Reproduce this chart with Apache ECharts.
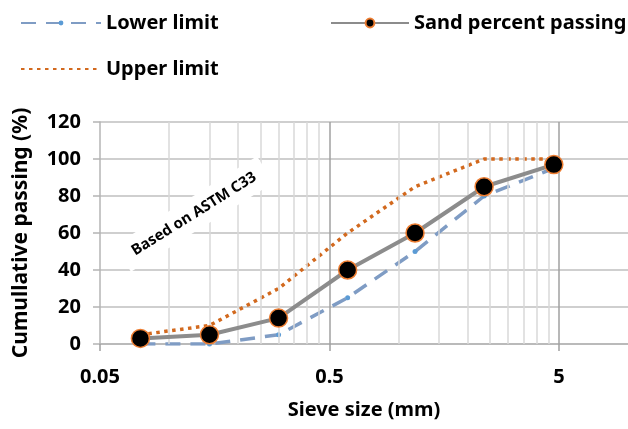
<!DOCTYPE html>
<html>
<head>
<meta charset="utf-8">
<script src="https://cdn.jsdelivr.net/npm/echarts@6/dist/echarts.min.js"></script>
<style>
	html, body { margin: 0; padding: 0; background: #fff; }
	#chart { width: 628px; height: 429px; }
</style>
</head>
<body>
<div id="chart"></div>
<script>
// sieve sizes (mm) and % passing
const sieveSizes = [0.075, 0.15, 0.3, 0.6, 1.18, 2.36, 4.75]
const sandPassing = [3, 5, 14, 40, 60, 85, 97]
const lowerLimit = [0, 0, 5, 25, 50, 80, 95]
const upperLimit = [5, 10, 30, 60, 85, 100, 100]

const xTickValues = [0.05, 0.5, 5]
const xTickLabels = ['0.05', '0.5', '5']
const xMinorGrid = [0.1, 0.15, 0.2, 0.25, 0.3, 0.35, 0.4, 0.45, 1, 1.5, 2, 2.5, 3, 3.5, 4, 4.5]
const xMajorGrid = [0.5, 5]

const FONT = '"Noto Sans", sans-serif'

const pairs = (ys) => sieveSizes.map((x, i) => [x, ys[i]])

const chart = echarts.init(document.getElementById('chart'))

const legendText = {
	fontFamily: FONT,
	fontSize: 20,
	fontWeight: 'bold',
	color: '#000'
}
const axisText = { fontFamily: FONT, fontSize: 20, fontWeight: 'bold', color: '#000' }

chart.setOption({
	animation: false,
	backgroundColor: '#fff',
	grid: {
		left: 100,
		right: 0,
		top: 122,
		bottom: 85,
		outerBoundsMode: 'none'
	},
	legend: [
		{ data: ['Lower limit'], left: 15, top: 8, itemWidth: 80, itemHeight: 6, itemGap: 0, textStyle: legendText },
		{ data: ['Sand percent passing'], left: 325, top: 8, itemWidth: 78, itemHeight: 11, textStyle: legendText },
		{
			data: [{ name: 'Upper limit', itemStyle: { color: 'transparent', borderWidth: 0 } }],
			left: 15,
			top: 54,
			itemWidth: 80,
			itemHeight: 6,
			textStyle: legendText
		}
	],
	xAxis: {
		type: 'log',
		logBase: 10,
		min: 0.05,
		max: 10,
		name: 'Sieve size (mm)',
		nameLocation: 'middle',
		nameGap: 56,
		nameTextStyle: axisText,
		axisLine: { lineStyle: { color: '#b4b4b4', width: 1.5 } },
		axisTick: { show: true, customValues: xTickValues, length: 7, lineStyle: { color: '#a0a0a0', width: 1.5 } },
		axisLabel: {
			customValues: xTickValues,
			margin: 23,
			...axisText,
			formatter: (v) => {
				const i = xTickValues.findIndex((t) => Math.abs(t - v) / t < 1e-6)
				return i >= 0 ? xTickLabels[i] : ''
			}
		},
		splitLine: { show: false }
	},
	yAxis: {
		type: 'value',
		min: 0,
		max: 120,
		interval: 20,
		name: 'Cumullative passing (%)',
		nameLocation: 'middle',
		nameGap: 68,
		nameTextStyle: { ...axisText, fontSize: 21 },
		axisLine: { show: true, lineStyle: { color: '#b4b4b4', width: 1.5 } },
		axisTick: { show: true, length: 7, lineStyle: { color: '#b4b4b4', width: 1.5 } },
		axisLabel: { margin: 19, ...axisText },
		splitLine: { show: true, lineStyle: { color: '#bfbfbf', width: 1.5 } }
	},
	graphic: [
		{
			type: 'text',
			x: 194,
			y: 214,
			rotation: (32 * Math.PI) / 180,
			z: 50,
			style: {
				text: 'Based on ASTM C33',
				fontFamily: FONT,
				fontSize: 15,
				fontWeight: 'bold',
				fill: '#000',
				align: 'center',
				verticalAlign: 'middle',
				backgroundColor: '#fff',
				padding: [8, 12]
			}
		}
	],
	series: [
		{
			// vertical log grid lines
			name: 'grid',
			type: 'line',
			data: [],
			z: 1,
			silent: true,
			markLine: {
				silent: true,
				symbol: ['none', 'none'],
				label: { show: false },
				emphasis: { disabled: true },
				data: [
					...xMinorGrid.map((v) => ({ xAxis: v, lineStyle: { color: '#d9d9d9', width: 1.5, type: 'solid' } })),
					...xMajorGrid.map((v) => ({ xAxis: v, lineStyle: { color: '#a0a0a0', width: 1.5, type: 'solid' } }))
				]
			}
		},
		{
			name: 'Lower limit',
			type: 'line',
			data: pairs(lowerLimit),
			z: 3,
			symbol: 'circle',
			symbolSize: 5,
			itemStyle: { color: '#5b9bd5', borderWidth: 0 },
			lineStyle: { color: '#7f9cc4', width: 3.5, type: [15, 10] }
		},
		{
			name: 'Sand percent passing',
			type: 'line',
			data: pairs(sandPassing),
			z: 5,
			symbol: 'circle',
			symbolSize: 18,
			itemStyle: { color: '#000', borderColor: '#ed7d31', borderWidth: 1.5 },
			lineStyle: { color: '#8c8c8c', width: 4 }
		},
		{
			name: 'Upper limit',
			type: 'line',
			data: pairs(upperLimit),
			z: 4,
			symbol: 'none',
			itemStyle: { color: '#d2691e' },
			lineStyle: { color: '#d2691e', width: 3.5, type: [3.5, 4.5] }
		}
	]
})
</script>
</body>
</html>
